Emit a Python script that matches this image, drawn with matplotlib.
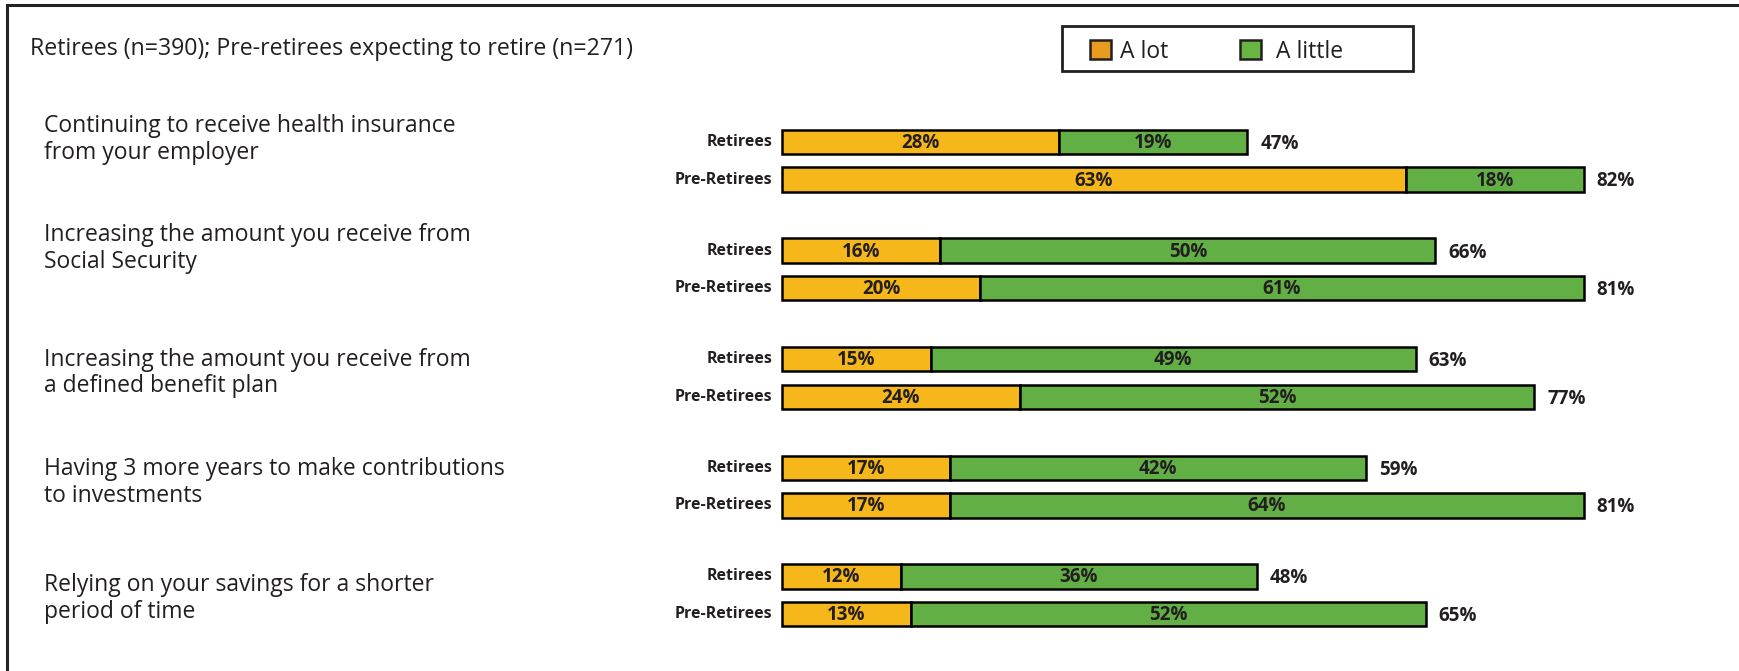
import matplotlib.pyplot as plt
from matplotlib.patches import Patch, Rectangle

# data
categories = [
    "Continuing to receive health insurance\nfrom your employer",
    "Increasing the amount you receive from\nSocial Security",
    "Increasing the amount you receive from\na defined benefit plan",
    "Having 3 more years to make contributions\nto investments",
    "Relying on your savings for a shorter\nperiod of time",
]
groups = ["Retirees", "Pre-Retirees"]
retirees_a_lot = [28, 16, 15, 17, 12]
retirees_a_little = [19, 50, 49, 42, 36]
retirees_total = [47, 66, 63, 59, 48]
pre_a_lot = [63, 20, 24, 17, 13]
pre_a_little = [18, 61, 52, 64, 52]
pre_total = [82, 81, 77, 81, 65]

ORANGE = '#F5B71A'
GREEN = '#62B045'
TXT = '#231F20'

W, H = 1739, 671
plt.rcParams['font.family'] = ['Open Sans', 'DejaVu Sans']

fig = plt.figure(figsize=(W / 100, H / 100), dpi=100)
ax = fig.add_axes([0, 0, 1, 1])
x0, px_per_pct = 782, 9.9
ax.set_xlim(-x0 / px_per_pct, (W - x0) / px_per_pct)
ax.set_ylim(H, 0)
ax.axis('off')

first_row, group_step, pair_step, bar_h = 142, 108.6, 37.5, 24.4
label_offset = [-21, -21, -5, -4, 3]

rows = [(retirees_a_lot, retirees_a_little, retirees_total),
        (pre_a_lot, pre_a_little, pre_total)]

for g, cat in enumerate(categories):
    y_top = first_row + g * group_step
    for s, (a_lot, a_little, total) in enumerate(rows):
        y = y_top + s * pair_step
        a, l = a_lot[g], a_little[g]
        ax.barh(y, a, height=bar_h, color=ORANGE, edgecolor='black', linewidth=1.8)
        ax.barh(y, l, left=a, height=bar_h, color=GREEN, edgecolor='black', linewidth=1.8)
        ax.text(a / 2, y + 1, f'{a}%', ha='center', va='center', fontsize=13.5,
                fontweight='bold', color=TXT)
        ax.text(a + l / 2, y + 1, f'{l}%', ha='center', va='center', fontsize=13.5,
                fontweight='bold', color=TXT)
        ax.text(a + l + 1.3, y + 2, f'{total[g]}%', ha='left', va='center', fontsize=13.5,
                fontweight='bold', color=TXT)
        ax.text(-1.0, y, groups[s], ha='right', va='center', fontsize=11.5,
                fontweight='bold', color=TXT)
    y_mid = y_top + pair_step / 2 + label_offset[g]
    fig.text(44 / W, 1 - y_mid / H, cat, ha='left', va='center', fontsize=16.5,
             color=TXT, linespacing=1.15)

fig.text(30 / W, 1 - 49 / H, "Retirees (n=390); Pre-retirees expecting to retire (n=271)",
         ha='left', va='center', fontsize=16.7, color=TXT)

handles = [Patch(facecolor='#E89B1F', edgecolor=TXT, linewidth=1.8),
           Patch(facecolor='#69B541', edgecolor=TXT, linewidth=1.8)]
leg = fig.legend(handles, ["A lot", " A little"], loc='center left',
                 bbox_to_anchor=(1090 / W, 1 - 51.5 / H), ncol=2, frameon=False,
                 fontsize=16.5, handlelength=0.92, handleheight=0.92, handletextpad=0.4,
                 columnspacing=3.1, borderpad=0, borderaxespad=0)
for t in leg.get_texts():
    t.set_color(TXT)
fig.add_artist(Rectangle((1062 / W, 1 - 71 / H), 351 / W, 45 / H, transform=fig.transFigure,
                         fill=False, edgecolor=TXT, linewidth=2))

fig.add_artist(Rectangle((7 / W, -0.5), 2, 1 - 5 / H + 0.5, transform=fig.transFigure,
                         fill=False, edgecolor='#222222', linewidth=2.2))

fig.savefig('out.png', dpi=100)
